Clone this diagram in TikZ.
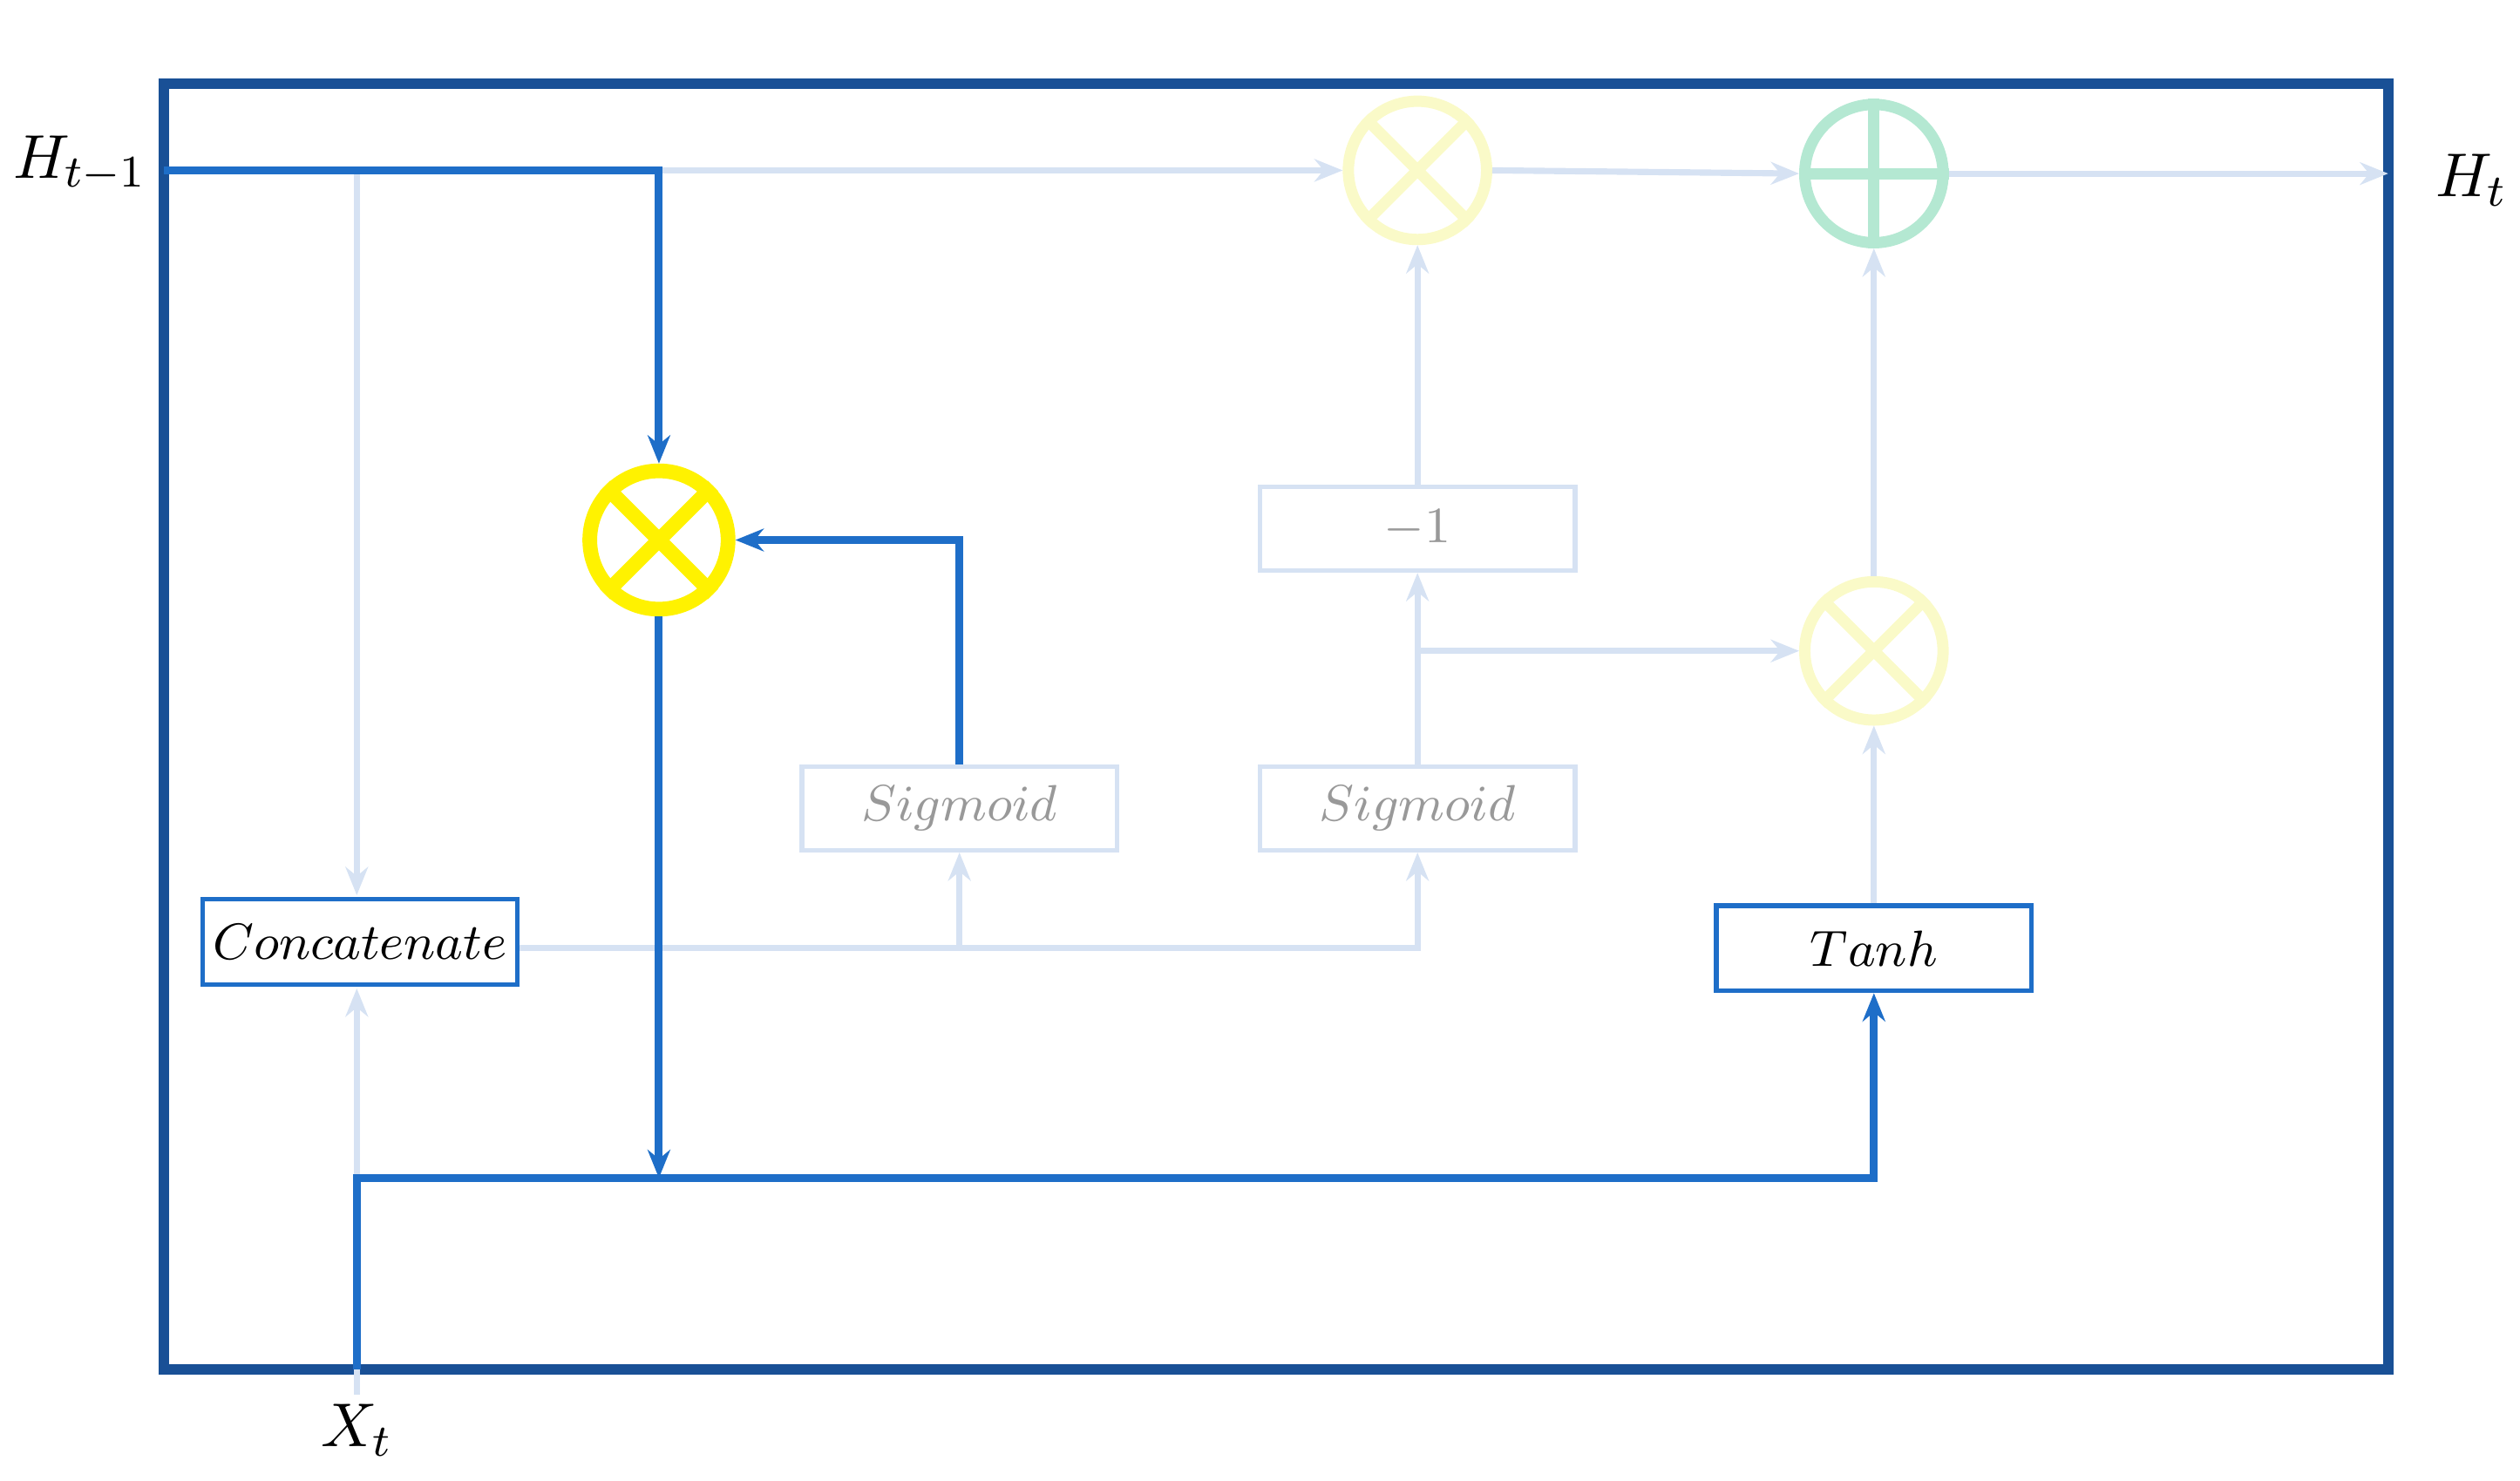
\documentclass[tikz,border=0pt]{standalone}
\usetikzlibrary{arrows.meta}
\definecolor{dk}{RGB}{30,110,200}
\definecolor{frame}{RGB}{25,80,150}
\definecolor{pl}{RGB}{214,226,243}
\definecolor{pyel}{RGB}{250,250,200}
\definecolor{pgrn}{RGB}{180,232,210}
\begin{document}
\begin{tikzpicture}[x=0.01cm,y=-0.01cm,
  dark/.style={draw=dk,line width=1.4pt},
  pale/.style={draw=pl,line width=1.1pt},
  arr/.style={-{Stealth[length=5pt,width=4pt]}},
  box/.style={draw=dk,line width=0.8pt,minimum width=1.96cm,minimum height=0.53cm,inner sep=0pt,font=\fontsize{9}{11}\selectfont},
  pbox/.style={draw=pl,line width=0.8pt,minimum width=1.96cm,minimum height=0.52cm,inner sep=0pt,text=gray!80,font=\fontsize{9}{11}\selectfont},
  circ/.style={circle,minimum size=0.86cm,inner sep=0pt,line width=2pt},
  lab/.style={font=\fontsize{11}{13}\selectfont}]
\useasboundingbox (0,0) rectangle (1568,921);
\draw[frame,line width=1.8pt] (102,52) rectangle (1486,852);
% nodes
\node[lab] (hin) at (50,102) {$H_{t-1}$};
\node[lab] (hout) at (1538,112) {$H_t$};
\node[lab] (xt) at (222,890) {$X_t$};
\node[box] (cat) at (224,586) {$Concatenate$};
\node[pbox] (s1) at (597,503) {$Sigmoid$};
\node[pbox] (s2) at (882,503) {$Sigmoid$};
\node[pbox] (m1) at (882,329) {$-1$};
\node[box] (tanh) at (1166,590) {$Tanh$};
\node[circ,draw=yellow,line width=2.6pt] (c0) at (410,336) {};
\node[circ,draw=pyel] (c1) at (882,106) {};
\node[circ,draw=pgrn] (cp) at (1166,108) {};
\node[circ,draw=pyel] (c3) at (1166,405) {};
% symbols
\draw[yellow,line width=2.6pt] (c0.north west)--(c0.south east) (c0.north east)--(c0.south west);
\draw[pyel,line width=2pt] (c1.north west)--(c1.south east) (c1.north east)--(c1.south west);
\draw[pyel,line width=2pt] (c3.north west)--(c3.south east) (c3.north east)--(c3.south west);
\draw[pgrn,line width=2pt] (cp.north)--(cp.south) (cp.west)--(cp.east);
% coordinates
\coordinate (a) at (102,106);
\coordinate (b) at (410,106);
\coordinate (xb) at (222,852);
\coordinate (xc) at (222,733);
\coordinate (j1) at (597,590);
\coordinate (j2) at (882,590);
\coordinate (j3) at (882,405);
\coordinate (d1) at (597,336);
\coordinate (d2) at (410,733);
\coordinate (d3) at (1166,733);
% pale connectors
\draw[pale,arr] (b) -- (c1.west);
\draw[pale,arr] (222,106) -- (222,557);
\draw[pale,arr] (xc) -- (222,615);
\draw[pale,arr] (323,590) -- (j2) -- (s2.south);
\draw[pale,arr] (j1) -- (s1.south);
\draw[pale,arr] (s2.north) -- (m1.south);
\draw[pale,arr] (j3) -- (c3.west);
\draw[pale,arr] (m1.north) -- (c1.south);
\draw[pale,arr] (c1.east) -- (cp.west);
\draw[pale,arr] (cp.east) -- (1486,108);
\draw[pale,arr] (tanh.north) -- (c3.south);
\draw[pale,arr] (c3.north) -- (cp.south);
\draw[pale] (222,852) -- (222,868);
% dark connectors
\draw[dark,arr] (a) -- (b) -- (c0.north);
\draw[dark,arr] (s1.north) -- (d1) -- (c0.east);
\draw[dark,arr] (c0.south) -- (d2);
\draw[dark,arr] (xb) -- (xc) -- (d3) -- (tanh.south);
\end{tikzpicture}
\end{document}
